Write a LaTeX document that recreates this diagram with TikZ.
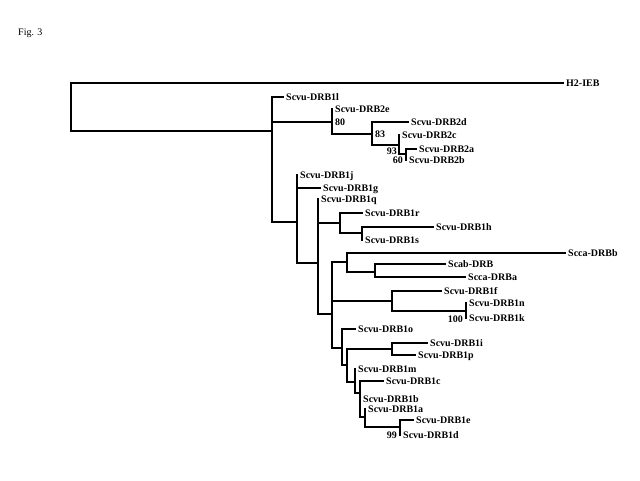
\documentclass[tikz,border=0pt]{standalone}
\usepackage{fontspec}
\setmainfont{Liberation Serif}
\usepackage{tikz}

\begin{document}
\begin{tikzpicture}[x=1pt,y=-1pt,
  br/.style={line width=1.5pt,line cap=rect},
  thk/.style={line width=2.8pt,line cap=rect},
  tip/.style={anchor=west,inner xsep=3pt,inner ysep=0pt,text height=7pt,text depth=0pt,
    font=\fontsize{10}{12}\selectfont\bfseries},
  bs/.style={inner sep=0pt,text height=7pt,text depth=0pt,
    font=\fontsize{10}{12}\selectfont\bfseries}]
  \useasboundingbox (0,0) rectangle (640,480);
  \node[anchor=west,inner sep=0pt,font=\fontsize{10}{12}\selectfont] (fig) at (18,33) {Fig. 3};

  % internal nodes
  \coordinate (root) at (71,107);
  \coordinate (n1) at (272,131);
  \coordinate (n2) at (332,122);
  \coordinate (n3) at (372,134);
  \coordinate (n4) at (399,145);
  \coordinate (n5) at (406,154);
  \coordinate (n6) at (297,222);
  \coordinate (n7) at (318,263);
  \coordinate (n8) at (340,223);
  \coordinate (n9) at (362,233);
  \coordinate (n10) at (332,314);
  \coordinate (n11) at (347,262);
  \coordinate (n12) at (375,272);
  \coordinate (n13) at (392,301);
  \coordinate (n14) at (466,311);
  \coordinate (n15) at (342,348);
  \coordinate (n16) at (347,365);
  \coordinate (n17) at (392,349);
  \coordinate (n18) at (355,382);
  \coordinate (n19) at (360,393);
  \coordinate (n20) at (365,417);
  \coordinate (n21) at (400,427);

  % tips
  \node[tip] (h2ieb) at (563,83) {H2-IEB};
  \node[tip] (drb1l) at (283,97) {Scvu-DRB1l};
  \node[tip] (drb2e) at (332,109) {Scvu-DRB2e};
  \node[tip] (drb2d) at (408,122) {Scvu-DRB2d};
  \node[tip] (drb2c) at (399,135) {Scvu-DRB2c};
  \node[tip] (drb2a) at (416,149) {Scvu-DRB2a};
  \node[tip] (drb2b) at (406,160) {Scvu-DRB2b};
  \node[tip] (drb1j) at (297,175) {Scvu-DRB1j};
  \node[tip] (drb1g) at (320,188) {Scvu-DRB1g};
  \node[tip] (drb1q) at (318,199) {Scvu-DRB1q};
  \node[tip] (drb1r) at (362,213) {Scvu-DRB1r};
  \node[tip] (drb1h) at (433,227) {Scvu-DRB1h};
  \node[tip] (drb1s) at (362,240) {Scvu-DRB1s};
  \node[tip] (sccab) at (565,253) {Scca-DRBb};
  \node[tip] (scab) at (445,264) {Scab-DRB};
  \node[tip] (sccaa) at (465,277) {Scca-DRBa};
  \node[tip] (drb1f) at (441,291) {Scvu-DRB1f};
  \node[tip] (drb1n) at (466,303) {Scvu-DRB1n};
  \node[tip] (drb1k) at (466,318) {Scvu-DRB1k};
  \node[tip] (drb1o) at (355,329) {Scvu-DRB1o};
  \node[tip] (drb1i) at (427,343) {Scvu-DRB1i};
  \node[tip] (drb1p) at (415,355) {Scvu-DRB1p};
  \node[tip] (drb1m) at (355,369) {Scvu-DRB1m};
  \node[tip] (drb1c) at (383,381) {Scvu-DRB1c};
  \node[tip] (drb1b) at (360,399) {Scvu-DRB1b};
  \node[tip] (drb1a) at (365,409) {Scvu-DRB1a};
  \node[tip] (drb1e) at (413,420) {Scvu-DRB1e};
  \node[tip] (drb1d) at (400,435) {Scvu-DRB1d};

  % bootstrap values
  \node[bs,anchor=west] (bs80) at (335,122) {80};
  \node[bs,anchor=west] (bs83) at (375,134) {83};
  \node[bs,anchor=east] (bs93) at (397,151) {93};
  \node[bs,anchor=east] (bs60) at (403,160) {60};
  \node[bs,anchor=east] (bs100) at (463,319) {100};
  \node[bs,anchor=east] (bs99) at (397,435) {99};

  % verticals
  \draw[thk] (root |- h2ieb.west) -- (root |- n1);
  \draw[thk] (n1 |- drb1l.west) -- (n1 |- n6);
  \draw[thk] (n2 |- drb2e.west) -- (n2 |- n3);
  \draw[thk] (n3 |- drb2d.west) -- (n3 |- n4);
  \draw[br] (n4 |- drb2c.west) -- (n4 |- n5);
  \draw[br] (n5 |- drb2a.west) -- (n5 |- drb2b.west);
  \draw[br] (n6 |- drb1j.west) -- (n6 |- n7);
  \draw[br] (n7 |- drb1q.west) -- (n7 |- n10);
  \draw[br] (n8 |- drb1r.west) -- (n8 |- n9);
  \draw[br] (n9 |- drb1h.west) -- (n9 |- drb1s.west);
  \draw[br] (n10 |- n11) -- (n10 |- n15);
  \draw[br] (n11 |- sccab.west) -- (n11 |- n12);
  \draw[br] (n12 |- scab.west) -- (n12 |- sccaa.west);
  \draw[br] (n13 |- drb1f.west) -- (n13 |- n14);
  \draw[br] (n14 |- drb1n.west) -- (n14 |- drb1k.west);
  \draw[br] (n15 |- drb1o.west) -- (n15 |- n16);
  \draw[thk] (n16 |- n17) -- (n16 |- n18);
  \draw[thk] (n17 |- drb1i.west) -- (n17 |- drb1p.west);
  \draw[br] (n18 |- drb1m.west) -- (n18 |- n19);
  \draw[br] (n19 |- drb1c.west) -- (n19 |- n20);
  \draw[thk] (n20 |- drb1a.west) -- (n20 |- n21);
  \draw[thk] (n21 |- drb1e.west) -- (n21 |- drb1d.west);

  % horizontals
  \draw[br] (root |- h2ieb.west) -- (h2ieb.west);
  \draw[br] (root |- n1) -- (n1);
  \draw[thk] (n1 |- drb1l.west) -- (drb1l.west);
  \draw[br] (n1 |- n2) -- (n2);
  \draw[thk] (n1 |- n6) -- (n6);
  \draw[thk] (n2 |- n3) -- (n3);
  \draw[thk] (n3 |- drb2d.west) -- (drb2d.west);
  \draw[thk] (n3 |- n4) -- (n4);
  \draw[br] (n4 |- n5) -- (n5);
  \draw[br] (n5 |- drb2a.west) -- (drb2a.west);
  \draw[br] (n6 |- drb1g.west) -- (drb1g.west);
  \draw[br] (n6 |- n7) -- (n7);
  \draw[br] (n7 |- n8) -- (n8);
  \draw[br] (n7 |- n10) -- (n10);
  \draw[br] (n8 |- drb1r.west) -- (drb1r.west);
  \draw[br] (n8 |- n9) -- (n9);
  \draw[br] (n9 |- drb1h.west) -- (drb1h.west);
  \draw[br] (n10 |- n11) -- (n11);
  \draw[thk] (n10 |- n13) -- (n13);
  \draw[br] (n10 |- n15) -- (n15);
  \draw[br] (n11 |- sccab.west) -- (sccab.west);
  \draw[thk] (n11 |- n12) -- (n12);
  \draw[br] (n12 |- scab.west) -- (scab.west);
  \draw[br] (n12 |- sccaa.west) -- (sccaa.west);
  \draw[br] (n13 |- drb1f.west) -- (drb1f.west);
  \draw[br] (n13 |- n14) -- (n14);
  \draw[thk] (n15 |- drb1o.west) -- (drb1o.west);
  \draw[thk] (n15 |- n16) -- (n16);
  \draw[br] (n16 |- n17) -- (n17);
  \draw[thk] (n16 |- n18) -- (n18);
  \draw[br] (n17 |- drb1i.west) -- (drb1i.west);
  \draw[br] (n17 |- drb1p.west) -- (drb1p.west);
  \draw[br] (n18 |- n19) -- (n19);
  \draw[br] (n19 |- drb1c.west) -- (drb1c.west);
  \draw[thk] (n19 |- n20) -- (n20);
  \draw[br] (n20 |- n21) -- (n21);
  \draw[br] (n21 |- drb1e.west) -- (drb1e.west);
\end{tikzpicture}
\end{document}
